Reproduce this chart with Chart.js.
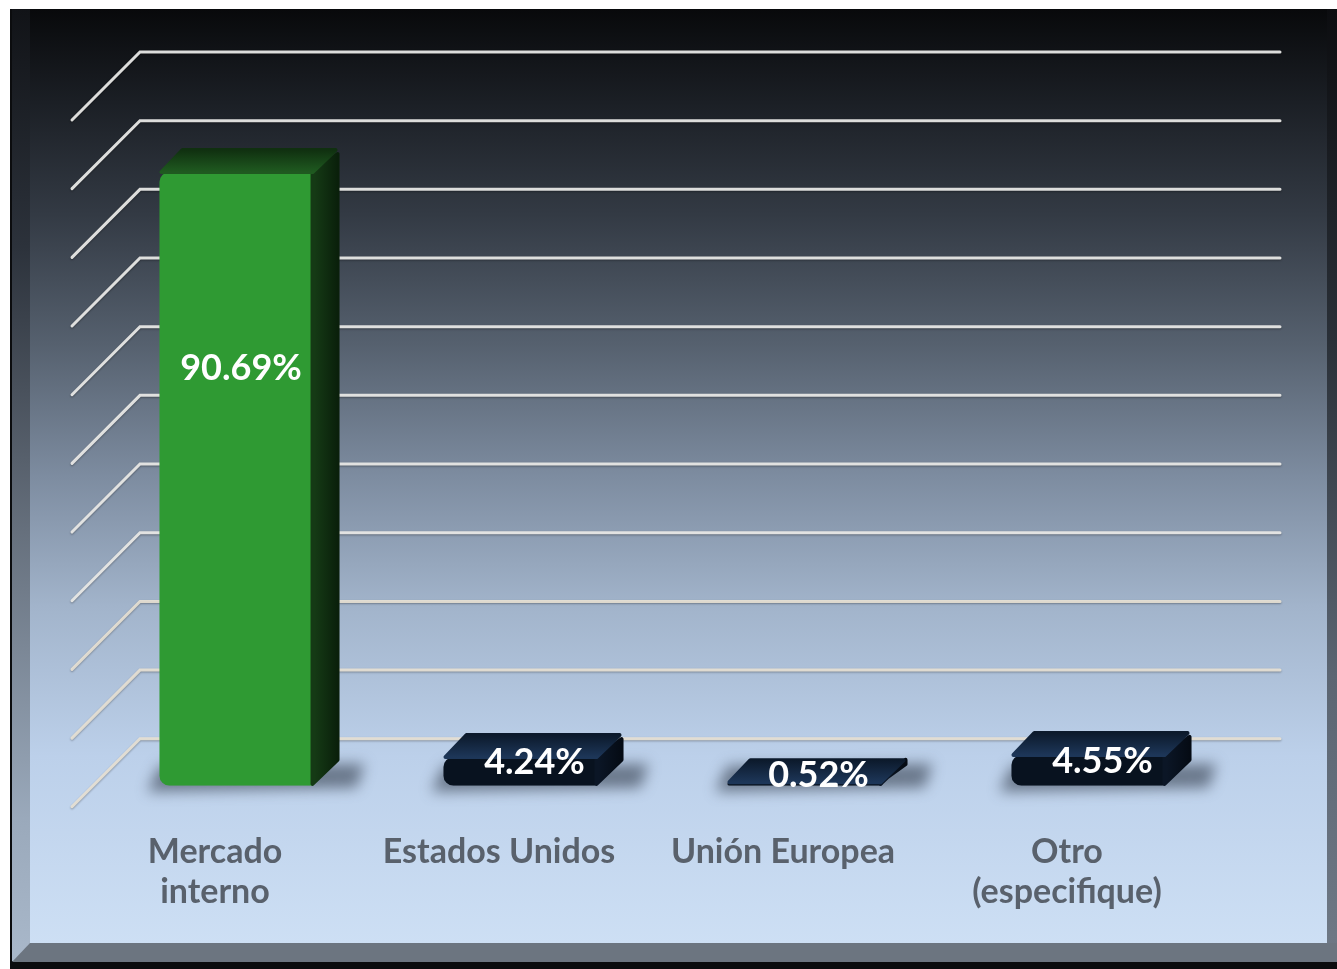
<!DOCTYPE html>
<html>
<head>
<meta charset="utf-8">
<script src="https://cdn.jsdelivr.net/npm/chart.js@4"></script>
<style>
  body { margin: 0; background: #fff; width: 1337px; height: 969px; overflow: hidden; position: relative; }
  #frame { position: absolute; left: 10px; top: 9px; width: 1327px; height: 960px; background: #0b0c0e; }
  #inner { position: absolute; left: 20px; top: 0; width: 1297px; height: 934px;
    background: linear-gradient(to bottom, #08090b 0%, #1b1f25 10%, #333a44 22%, #56616f 36%, #7d8ca0 50%, #a2b4cb 64%, #bcd0ea 80%, #cddff4 100%); }
  #leftStrip { position: absolute; left: 2px; top: 0; width: 18px; height: 952px;
    background: linear-gradient(to bottom, #111317 0%, #2c323b 25%, #66707d 55%, #9aa9bb 85%, #a9b8ca 100%); }
  #rightStrip { position: absolute; left: 1317px; top: 0; width: 10px; height: 953px;
    background: linear-gradient(to bottom, #0c0d10 0%, #2a3038 35%, #5b6572 70%, #6f7986 100%); }
  #bottomBevel { position: absolute; left: 2px; top: 934px; width: 1325px; height: 19px; background: #6c7580;
    clip-path: polygon(18px 0, 100% 0, 100% 100%, 0 100%); }
  canvas { position: absolute; left: 0; top: 0; }
</style>
</head>
<body>
<div id="frame">
  <div id="leftStrip"></div>
  <div id="rightStrip"></div>
  <div id="inner"></div>
  <div id="bottomBevel"></div>
</div>
<canvas id="destinoChart" width="1337" height="969"></canvas>
<script>
// destino de las ventas (%)
const categories = [['Mercado', 'interno'], 'Estados Unidos', 'Unión Europea', ['Otro', '(especifique)']]
const shares = [90.69, 4.24, 0.52, 4.55]
const gridValues = [0, 10, 20, 30, 40, 50, 60, 70, 80, 90, 100]
const barColors = ['#2f9a33', '#08121f', '#08121f', '#08121f']

// profundidad del efecto 3D
const DX = 23, DY = 22

const floor3d = {
	id: 'floor3d',
	beforeDatasetsDraw(chart) {
		const ctx = chart.ctx
		const y = chart.scales.y
		const area = chart.chartArea
		const y0 = y.getPixelForValue(0)
		const k = 1.0148
		ctx.save()
		ctx.lineWidth = 3
		ctx.lineCap = 'round'
		ctx.shadowColor = 'rgba(0,0,0,0.35)'
		ctx.shadowOffsetY = 1
		ctx.shadowBlur = 2
		gridValues.forEach(v => {
			const back = y0 - 47 - (y0 - y.getPixelForValue(v)) * k
			ctx.strokeStyle = v < 25 ? 'rgba(238,230,215,0.85)' : 'rgba(232,232,230,0.95)'
			ctx.beginPath()
			ctx.moveTo(area.left - 23, back + 68)
			ctx.lineTo(area.left + 45, back)
			ctx.lineTo(area.right + 49, back)
			ctx.stroke()
		})
		ctx.restore()

		// sombras en el piso
		const meta = chart.getDatasetMeta(0)
		ctx.save()
		ctx.filter = 'blur(7px)'
		ctx.fillStyle = 'rgba(50,60,75,0.6)'
		meta.data.forEach(bar => {
			const w = bar.width
			ctx.beginPath()
			ctx.moveTo(bar.x - w / 2 - 12, bar.base + 6)
			ctx.lineTo(bar.x + w / 2 + 42, bar.base + 2)
			ctx.lineTo(bar.x + w / 2 + 50, bar.base - 22)
			ctx.lineTo(bar.x - w / 2, bar.base - 20)
			ctx.closePath()
			ctx.fill()
		})
		ctx.restore()
	},
	afterDatasetsDraw(chart) {
		const ctx = chart.ctx
		const meta = chart.getDatasetMeta(0)
		meta.data.forEach((bar, i) => {
			const l = bar.x - bar.width / 2
			const r = bar.x + bar.width / 2
			const top = bar.y
			const base = bar.base
			const green = i === 0
			ctx.save()
			ctx.lineJoin = 'round'
			// cara lateral
			let g = ctx.createLinearGradient(r, 0, r + DX, 0)
			g.addColorStop(0, green ? '#153a15' : '#0b1626')
			g.addColorStop(1, green ? '#0a200b' : '#050b14')
			ctx.fillStyle = g
			ctx.strokeStyle = g
			ctx.lineWidth = 4
			ctx.beginPath()
			ctx.moveTo(r - 2, top)
			ctx.lineTo(r + DX, top - DY + 4)
			ctx.lineTo(r + DX, base - DY - 4)
			ctx.lineTo(r - 2, base - 2)
			ctx.closePath()
			ctx.stroke()
			ctx.fill()
			// cara superior
			g = ctx.createLinearGradient(0, top - DY, 0, top)
			g.addColorStop(0, green ? '#103010' : '#0c1a2c')
			g.addColorStop(1, green ? '#1f5a20' : '#1d3658')
			ctx.fillStyle = g
			ctx.strokeStyle = g
			ctx.beginPath()
			ctx.moveTo(l + 2, top)
			ctx.lineTo(l + DX, top - DY)
			ctx.lineTo(r + DX - 2, top - DY)
			ctx.lineTo(r - 2, top)
			ctx.closePath()
			ctx.stroke()
			ctx.fill()
			ctx.restore()

			// etiqueta de valor
			ctx.save()
			ctx.fillStyle = '#ffffff'
			ctx.textAlign = 'center'
			ctx.textBaseline = 'middle'
			ctx.font = 'bold 36px Lato'
			const txt = shares[i].toFixed(2) + '%'
			if (base - top > 100) {
				ctx.fillText(txt, bar.x + 4, top + (base - top) * 0.32)
			} else {
				ctx.fillText(txt, bar.x + DX / 2 + 2, (top - DY + base) / 2 + 2)
			}
			ctx.restore()
		})
	}
}

const ctx = document.getElementById('destinoChart').getContext('2d')
const myChart = new Chart(ctx, {
	type: 'bar',
	data: {
		labels: categories,
		datasets: [
			{
				label: 'Destino',
				data: shares,
				backgroundColor: barColors,
				borderRadius: { topLeft: 10, topRight: 6, bottomLeft: 10, bottomRight: 4 },
				borderSkipped: false,
				barPercentage: 1,
				categoryPercentage: 0.546,
			},
		],
	},
	options: {
		responsive: false,
		animation: false,
		devicePixelRatio: 1,
		layout: {
			padding: { left: 95, right: 106, top: 109, bottom: 11 },
		},
		plugins: {
			legend: { display: false },
			tooltip: { enabled: false },
		},
		scales: {
			x: {
				grid: { display: false, drawTicks: false },
				border: { display: false },
				ticks: {
					color: '#59616c',
					font: { family: 'Lato', weight: 'bold', size: 34, lineHeight: 1.18 },
					padding: 46,
					labelOffset: -22,
					maxRotation: 0,
					autoSkip: false,
				},
			},
			y: {
				display: false,
				min: 0,
				max: 100,
			},
		},
	},
	plugins: [floor3d],
})
</script>
</body>
</html>
